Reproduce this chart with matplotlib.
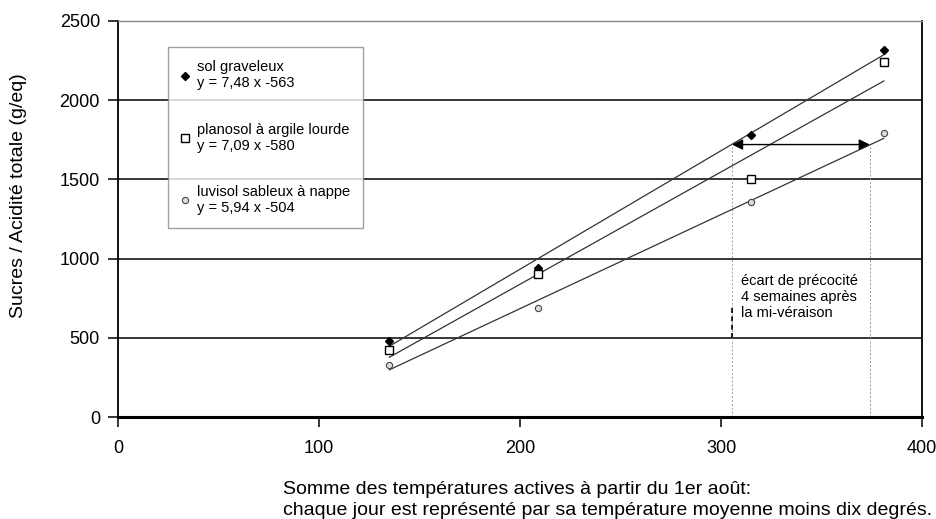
import matplotlib.pyplot as plt
import numpy as np

plt.rcParams['font.family'] = ['Liberation Sans', 'DejaVu Sans']

# ---------------------------------------------------------
# data
# ---------------------------------------------------------
temp_sum = [135, 209, 315, 381]

sucres_graveleux = [480, 940, 1780, 2320]
sucres_planosol = [420, 905, 1500, 2240]
sucres_luvisol = [330, 690, 1355, 1795]

labels = ["sol graveleux\ny = 7,48 x -563",
          "planosol à argile lourde\ny = 7,09 x -580",
          "luvisol sableux à nappe\ny = 5,94 x -504"]
slopes = [7.48, 7.09, 5.94]
intercepts = [-563, -580, -504]

# precocity gap (arrow between the two soils at same ratio)
gap_level = 1720
gap_start = 305.5
gap_end = 374

xticks = [0, 100, 200, 300, 400]
yticks = [0, 500, 1000, 1500, 2000, 2500]

# ---------------------------------------------------------
# figure
# ---------------------------------------------------------
fig = plt.figure(figsize=(9.37, 5.19), dpi=100)
ax = fig.add_axes([118 / 937, 1 - 417 / 519, 804 / 937, 396 / 519])

for y in yticks[1:-1]:
    ax.axhline(y, color="black", linewidth=1.1, zorder=1)

# regression lines
x_fit = np.array([temp_sum[0], temp_sum[-1]])
for a, b in zip(slopes, intercepts):
    ax.plot(x_fit, a * x_fit + b, color="#333333", linewidth=0.9, zorder=2)

# measured points
h1, = ax.plot(temp_sum, sucres_graveleux, linestyle="none", marker="D", markersize=4.5,
              color="black", zorder=3)
h2, = ax.plot(temp_sum, sucres_planosol, linestyle="none", marker="s", markersize=5.5,
              markerfacecolor="white", markeredgecolor="black", markeredgewidth=1.0, zorder=3)
h3, = ax.plot(temp_sum, sucres_luvisol, linestyle="none", marker="o", markersize=4.5,
              markerfacecolor="#dddddd", markeredgecolor="#444444", markeredgewidth=0.8, zorder=3)

# gap arrow and guide lines
ax.annotate("", xy=(gap_start, gap_level), xytext=(gap_end, gap_level),
            arrowprops=dict(arrowstyle="<|-|>", color="black", lw=1.0,
                            mutation_scale=16, shrinkA=0, shrinkB=0), zorder=4)
ax.plot([gap_start, gap_start], [0, gap_level], color="#999999", linestyle=(0, (2, 2)),
        linewidth=0.7, zorder=1)
ax.plot([gap_end, gap_end], [0, gap_level], color="#999999", linestyle=(0, (2, 2)),
        linewidth=0.7, zorder=1)
ax.plot([gap_start, gap_start], [500, 690], color="black", linestyle=(0, (3, 2)),
        linewidth=1.2, zorder=2)
ax.text(310, 905, "écart de précocité\n4 semaines après\nla mi-véraison",
        fontsize=10.5, va="top", ha="left", linespacing=1.2)

# axes styling
ax.set_xlim(0, 400)
ax.set_ylim(0, 2500)
ax.set_xticks(xticks)
ax.set_yticks(yticks)
ax.tick_params(axis="both", direction="out", length=7.5, width=1.1, labelsize=13,
               color="black")
ax.tick_params(axis="x", pad=9)
ax.tick_params(axis="y", pad=5.5)
for side in ["left", "right"]:
    ax.spines[side].set_linewidth(1.3)
ax.spines["bottom"].set_linewidth(2.2)
ax.spines["top"].set_linewidth(1.0)
ax.spines["top"].set_color("#888888")

ax.set_ylabel("Sucres / Acidité totale (g/eq)", fontsize=14, va="center")
ax.yaxis.set_label_coords(-0.124, 0.56)

leg = ax.legend([h1, h2, h3], labels, loc="upper left", bbox_to_anchor=(0.062, 0.934),
                fontsize=10.5, frameon=True, fancybox=False, handlelength=0.6,
                handletextpad=0.5, labelspacing=2.2, borderpad=0.9, borderaxespad=0)
leg.get_frame().set_edgecolor("#888888")
leg.get_frame().set_linewidth(1.0)

fig.text(283 / 937, 1 - 500 / 519,
         "Somme des températures actives à partir du 1er août:\n"
         "chaque jour est représenté par sa température moyenne moins dix degrés.",
         fontsize=14, ha="left", va="center", linespacing=1.3)

plt.savefig("out.png", dpi=100)
